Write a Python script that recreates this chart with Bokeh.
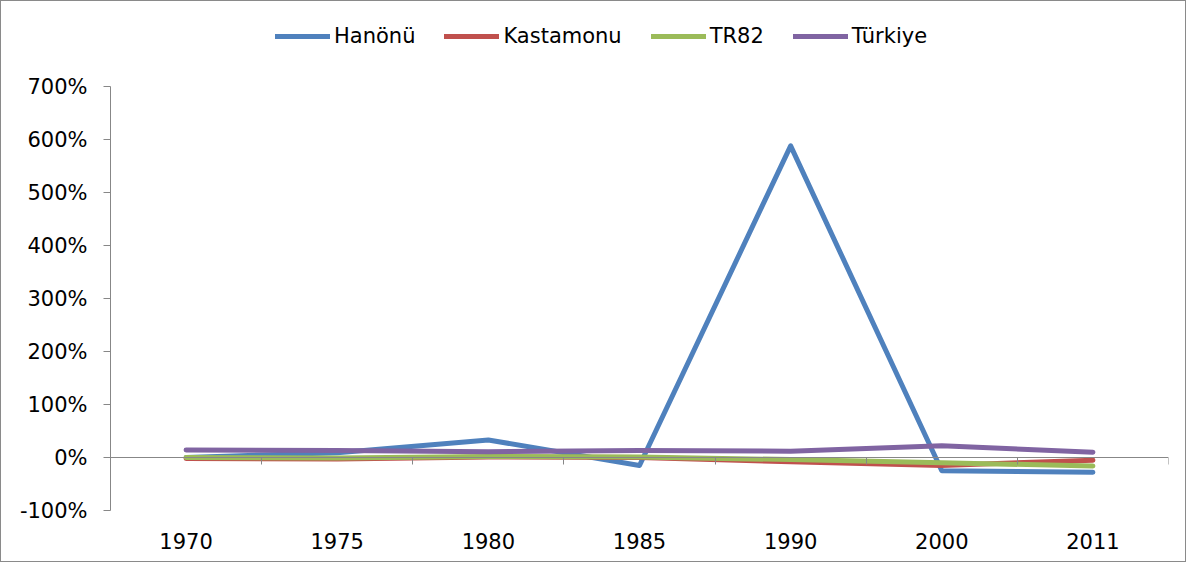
from bokeh.plotting import figure
from bokeh.models import (Range1d, LinearAxis, FixedTicker, PrintfTickFormatter,
                          Legend, LegendItem, ColumnDataSource)
from bokeh.embed import file_html
from bokeh.resources import INLINE

years = ["1970", "1975", "1980", "1985", "1990", "2000", "2011"]
hanonu = [0, 9, 33, -15, 588, -25, -28]
kastamonu = [-2, -3, 1, 0, -8, -15, -5]
tr82 = [0, -1, 2, 1, -4, -10, -16]
turkiye = [14, 13, 11, 13, 12, 22, 10]

series = [("Hanönü", hanonu, "#4F81BD"),
          ("Kastamonu", kastamonu, "#C0504D"),
          ("TR82", tr82, "#9BBB59"),
          ("Türkiye", turkiye, "#8064A2")]

FONT = "DejaVu Sans"
FS = "21px"
GRAY = "#878787"

xpos = [i + 0.5 for i in range(len(years))]

# the frame reaches the top of the figure so that the legend can sit inside it;
# axis and grid are bounded to -100..700
p = figure(width=1186, height=562, output_backend="svg", toolbar_location=None,
           x_range=Range1d(0, len(years)), y_range=Range1d(-100, 860.4),
           x_axis_type=None, y_axis_type=None,
           min_border_left=109, min_border_right=19, min_border_top=0,
           min_border_bottom=53)
p.outline_line_color = None
p.background_fill_color = "white"
p.border_fill_color = "white"
p.styles = {"border": "1px solid #8a8a8a", "box-sizing": "border-box"}

# y axis
yaxis = LinearAxis(ticker=FixedTicker(ticks=list(range(-100, 701, 100))),
                   formatter=PrintfTickFormatter(format="%d%%"),
                   bounds=(-100, 700))
yaxis.axis_line_color = GRAY
yaxis.major_tick_line_color = GRAY
yaxis.major_tick_out = 7
yaxis.major_tick_in = 0
yaxis.minor_tick_line_color = None
yaxis.major_label_standoff = 16
yaxis.major_label_text_font = FONT
yaxis.major_label_text_font_size = FS
yaxis.major_label_text_color = "black"
p.add_layout(yaxis, "left")

# x labels at category centres
xlab = LinearAxis(ticker=FixedTicker(ticks=xpos),
                  major_label_overrides={x: y for x, y in zip(xpos, years)})
xlab.axis_line_color = None
xlab.major_tick_line_color = None
xlab.minor_tick_line_color = None
xlab.major_label_standoff = 16
xlab.major_label_text_font = FONT
xlab.major_label_text_font_size = FS
xlab.major_label_text_color = "black"
p.add_layout(xlab, "below")

# category axis line at 0 with ticks at boundaries
xtick = LinearAxis(fixed_location=0,
                   ticker=FixedTicker(ticks=list(range(len(years) + 1))))
xtick.axis_line_color = GRAY
xtick.major_tick_line_color = GRAY
xtick.major_tick_out = 7
xtick.major_tick_in = 0
xtick.minor_tick_line_color = None
xtick.major_label_text_color = None
p.add_layout(xtick, "below")

p.xgrid.visible = False
p.ygrid.grid_line_color = GRAY
p.ygrid.grid_line_width = 1
p.ygrid.ticker = FixedTicker(ticks=list(range(-100, 701, 100)))
p.ygrid.bounds = (-100, 700)

items = []
for name, vals, color in series:
    src = ColumnDataSource(dict(x=xpos, y=vals))
    r = p.line("x", "y", source=src, line_color=color, line_width=5,
               line_join="round", line_cap="round")
    items.append(LegendItem(label=name, renderers=[r]))

legend = Legend(items=items, orientation="horizontal", location=(165, 462))
legend.padding = 0
legend.margin = 0
legend.spacing = 29
legend.glyph_width = 55
legend.glyph_height = 20
legend.label_height = 20
legend.label_standoff = 4
legend.label_text_font = FONT
legend.label_text_font_size = FS
legend.label_text_color = "black"
legend.border_line_color = None
legend.background_fill_alpha = 0
p.add_layout(legend, "center")

open("out.html", "w").write(file_html(p, INLINE))
